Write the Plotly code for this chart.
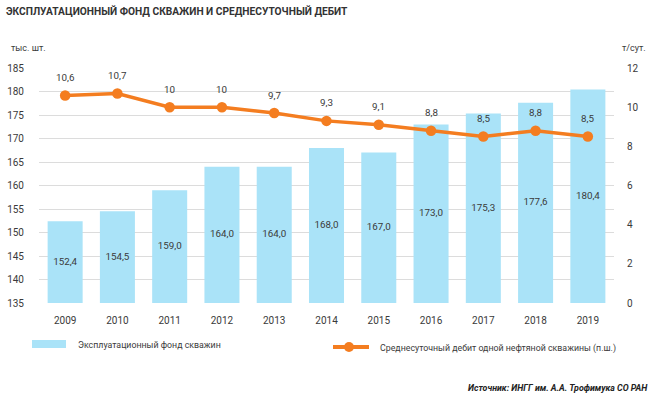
import plotly.graph_objects as go

years = ["2009", "2010", "2011", "2012", "2013", "2014", "2015", "2016", "2017", "2018", "2019"]
wells = [152.4, 154.5, 159.0, 164.0, 164.0, 168.0, 167.0, 173.0, 175.3, 177.6, 180.4]
debit = [10.6, 10.7, 10.0, 10.0, 9.7, 9.3, 9.1, 8.8, 8.5, 8.8, 8.5]
left_ticks = [135, 140, 145, 150, 155, 160, 165, 170, 175, 180, 185]
right_ticks = [0, 2, 4, 6, 8, 10, 12]
Y_MIN, Y_MAX = 135, 185

FONT = "Roboto, sans-serif"
TXT = "#3a3a3a"
BAR_C = "#AAE3F8"
LINE_C = "#F47D20"

W, H = 654, 397
# plot area on screen: x 39..614, y 68..303
L, R, T, B = 39, W - 614, 68, H - 303
pw, ph = W - L - R, H - T - B


def px(x):  # screen px -> paper
    return (x - L) / pw


def py(y):
    return (H - B - y) / ph


def fmt(v, keep_decimal=True):
    if not keep_decimal and float(v).is_integer():
        return str(int(v))
    return f"{v:.1f}".replace(".", ",")


fig = go.Figure()
fig.add_trace(go.Bar(
    x=years, y=wells, name="Эксплуатационный фонд скважин",
    marker=dict(color=BAR_C, line=dict(width=0)),
    hoverinfo="skip", showlegend=False,
))
# value labels centred in the visible part of each bar
fig.add_trace(go.Scatter(
    x=years, y=[(Y_MIN + w) / 2 for w in wells], mode="text",
    text=[fmt(v) for v in wells], textposition="middle center",
    textfont=dict(family=FONT, size=9.8, color=TXT),
    hoverinfo="skip", showlegend=False,
))
fig.add_trace(go.Scatter(
    x=years, y=debit, yaxis="y2", name="Среднесуточный дебит одной нефтяной скважины (п.ш.)",
    mode="lines+markers",
    line=dict(color=LINE_C, width=3.5),
    marker=dict(color=LINE_C, size=10.5),
    hoverinfo="skip", showlegend=False,
))

annotations = [
    dict(x=i, y=v, xref="x", yref="y2", text=fmt(v, False), showarrow=False,
         yshift=18, font=dict(family=FONT, size=9.8, color=TXT))
    for i, v in enumerate(debit)
]

shapes = [
    dict(type="rect", xref="paper", yref="paper", x0=px(32), x1=px(66), y0=py(348), y1=py(340),
         fillcolor=BAR_C, line=dict(width=0), layer="above"),
    dict(type="line", xref="paper", yref="paper", x0=px(333), x1=px(369), y0=py(347), y1=py(347),
         line=dict(color=LINE_C, width=4)),
    dict(type="circle", xref="paper", yref="paper", x0=px(344), x1=px(354), y0=py(352), y1=py(342),
         fillcolor=LINE_C, line=dict(width=0)),
]

annotations += [
    dict(text="<b>ЭКСПЛУАТАЦИОННЫЙ ФОНД СКВАЖИН И СРЕДНЕСУТОЧНЫЙ ДЕБИТ</b>",
         xref="paper", yref="paper", x=px(4), y=py(11), xanchor="left", yanchor="middle",
         showarrow=False, font=dict(family=FONT, size=10.2, color="#333333")),
    dict(text="тыс. шт.", xref="paper", yref="paper", x=px(9), y=py(48),
         xanchor="left", yanchor="middle", showarrow=False,
         font=dict(family=FONT, size=9, color=TXT)),
    dict(text="т/сут.", xref="paper", yref="paper", x=px(648), y=py(48),
         xanchor="right", yanchor="middle", showarrow=False,
         font=dict(family=FONT, size=9, color=TXT)),
    dict(text="Эксплуатационный фонд скважин", xref="paper", yref="paper", x=px(76), y=py(345),
         xanchor="left", yanchor="middle", showarrow=False,
         font=dict(family=FONT, size=8.8, color=TXT)),
    dict(text="Среднесуточный дебит одной нефтяной скважины (п.ш.)", xref="paper", yref="paper",
         x=px(378), y=py(348), xanchor="left", yanchor="middle", showarrow=False,
         font=dict(family=FONT, size=8.8, color=TXT)),
    dict(text="<b><i>Источник: ИНГГ им. А.А. Трофимука СО РАН</i></b>",
         xref="paper", yref="paper", x=px(650), y=py(388), xanchor="right", yanchor="middle",
         showarrow=False, font=dict(family=FONT, size=8.8, color="#222222")),
]

fig.update_layout(
    width=W, height=H,
    margin=dict(l=L, r=R, t=T, b=B, autoexpand=False),
    paper_bgcolor="white", plot_bgcolor="white",
    font=dict(family=FONT, size=11, color=TXT),
    bargap=0.33,
    showlegend=False,
    hovermode=False,
    xaxis=dict(type="category", range=[-0.5, 10.5], showgrid=False, zeroline=False,
               showline=False, ticks="", automargin=False,
               tickfont=dict(family=FONT, size=10, color=TXT), ticklabelstandoff=10),
    yaxis=dict(range=[Y_MIN, Y_MAX], tickvals=left_ticks, showgrid=True, gridcolor="#DCDCDC",
               gridwidth=1, zeroline=False, showline=False, ticks="", automargin=False,
               tickfont=dict(family=FONT, size=10, color=TXT), ticklabelstandoff=14),
    yaxis2=dict(range=[0, 12], tickvals=right_ticks, overlaying="y", side="right",
                showgrid=False, zeroline=False, showline=False, ticks="", automargin=False,
                tickfont=dict(family=FONT, size=10, color=TXT), ticklabelstandoff=12),
    shapes=shapes,
    annotations=annotations,
)

fig.write_html("out.html", config={"displayModeBar": False},
               post_script="document.body.style.margin='0';document.body.style.padding='0';")
